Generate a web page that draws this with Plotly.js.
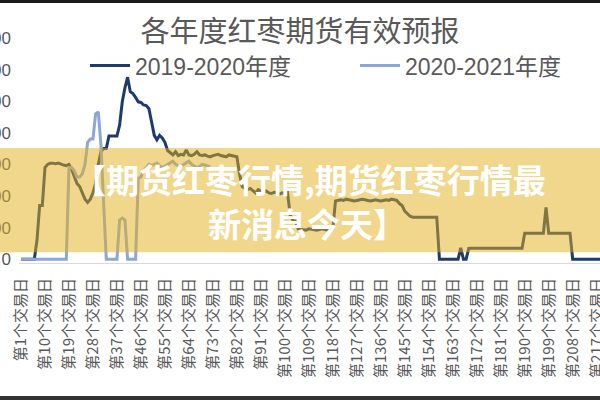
<!DOCTYPE html>
<html>
<head>
<meta charset="utf-8">
<script src="https://cdn.plot.ly/plotly-3.0.1.min.js"></script>
<style>
html,body{margin:0;padding:0;background:#fff;}
#wrap{position:relative;width:600px;height:400px;overflow:hidden;}
#chart{position:absolute;left:0;top:0;width:600px;height:400px;}
.bt{position:absolute;left:0;top:0;width:600px;height:3px;background:#1a1a1a;}
.bb{position:absolute;left:0;top:396px;width:600px;height:4px;background:#333;}
</style>
</head>
<body>
<div id="wrap"><div id="chart"></div><div class="bt"></div><div class="bb"></div></div>
<script>
// ---- data ----
const chartTitle = "各年度红枣期货有效预报";
const seriesNames = ["2019-2020年度", "2020-2021年度"];
const bannerLines = ["【期货红枣行情,期货红枣行情最", "新消息今天】"];
const yTicks = [0, 500, 1000, 1500, 2000, 2500, 3000, 3500];

// 2019-2020 season, trading days 1..220
const s2019 = [
  0,0,0,0,0,0, 300,850,850,1450,1500,
  1520,1520,1510,1520,1500,1490,1480, 1500,
  1420,1300,1200,1150,1050,950,900,950,1050,1200,1500,
  1700,1750,1750,1950,1950,1950,1950,
  2120,2490,2710,2880,2650,2620,2560,2490,2480,2440,2430,2380,
  2170,1960,1890,1960,1920,1850,1720,
  1680,1650,1700,1640,1660,1650,1730,1650,1640,1660,1700,1650,1640,1650,1630,1620,1640,1650,1660,1640,1630,1620,1650,1640,1630,1620,
  1350,
  1150,1120,1100,1120,1080,1050,1100,1080,1060,1080,1050,1040,1060,1050,1030,1050,1040,1060,
  700,620,600,
  480,470,470,460,480,470,470,460,470,480,470,460,470,480,
  920,930,940,930,950,940,930,920,930,940,950,940,930,920,930,940,930,920,930,940,930,950,940,930,
  880,850,760,720,680,
  665,665,670,665,660,665,665,670,665,665,
  0,0,0,0,0,0,0,0, 180,0,0,170,
  175,175,175,175,175,175,175,175,175,175,175,175,175,175,175,175,175,175,175,175,
  410,410,410,410,410,410,410,410,
  820,410,
  410,410,410,410,410,410,410,410,
  0,0,0,0,0,0,0,0,0,0,0,0
];
// 2020-2021 season, trading days so far
const s2020 = [
  0,0,0,0,0,0,0,0,0,0,0,0,0,0,0,0,0,0,
  1450,1450,1400,1300,1300,1350,1500,1850,1900,1900,2300,2330,1800,900,
  0,0,0,0,0, 620,650,620, 0,0,0,0,
  1280,1300,1400,1450,1500,1480,
  1500,1520,1480,1450,1470,1500,1520,1550,1500,1480,1460,1500,1530,1550,1500,1480,1450,1470,1500,1490,1470,1460
];

const days1 = s2019.map((v, i) => i + 1);
const days2 = s2020.map((v, i) => i + 1);
const tickDays = days1.filter(d => (d - 1) % 9 === 0);
const tickText = tickDays.map(d => "第" + d + "个交易日");

const CJK = "Noto Sans CJK SC";
const legFont = {family: "Liberation Sans, " + CJK, size: 23, color: "#595959"};
const traces = [
  {x: days1, y: s2019, name: seriesNames[0], type: "scatter", mode: "lines", legend: "legend",
   line: {color: "#1F3B6E", width: 3}},
  {x: days2, y: s2020, name: seriesNames[1], type: "scatter", mode: "lines", legend: "legend2",
   line: {color: "#8CA6D6", width: 3}}
];

const layout = {
  width: 600, height: 400,
  margin: {l: 19, r: 0, t: 38, b: 137},
  paper_bgcolor: "#ffffff", plot_bgcolor: "#ffffff",
  showlegend: true,
  title: {text: chartTitle, x: 0.5, xref: "container", xanchor: "center",
          y: 0.92, yref: "container", yanchor: "middle",
          font: {family: CJK, size: 29, color: "#595959"}},
  legend: {orientation: "h", x: (85 - 19) / 581, xanchor: "left", y: 0.973, yanchor: "top",
           font: legFont, itemwidth: 40, bgcolor: "rgba(0,0,0,0)"},
  legend2: {orientation: "h", x: (355 - 19) / 581, xanchor: "left", y: 0.973, yanchor: "top",
           font: legFont, itemwidth: 40, bgcolor: "rgba(0,0,0,0)"},
  xaxis: {type: "linear", range: [0.25, 218.25], tickmode: "array",
          tickvals: tickDays, ticktext: tickText, tickangle: -90,
          ticks: "", showgrid: false, zeroline: false,
          showline: true, linecolor: "#D9D9D9", linewidth: 1,
          ticklabelstandoff: 8, ticklabeloverflow: "allow",
          tickfont: {family: CJK, size: 15, color: "#595959"}},
  yaxis: {range: [-60, 3500], tickmode: "array", tickvals: yTicks,
          ticks: "", showgrid: false, zeroline: false, showline: false,
          ticklabelstandoff: 7, ticklabeloverflow: "allow",
          tickfont: {family: "Liberation Sans", size: 17, color: "#595959"}},
  shapes: [
    {type: "rect", xref: "paper", yref: "paper", x0: -0.04, x1: 1.01,
     y0: 0.048, y1: 0.5107, line: {width: 0}, fillcolor: "rgba(225,175,25,0.5)", layer: "above"}
  ],
  annotations: [
    {text: "<b>" + bannerLines[0] + "</b>", xref: "paper", yref: "paper",
     x: (309 - 19) / 581, y: (262.8 - 179) / 224.8, xanchor: "center", yanchor: "middle",
     showarrow: false, font: {family: CJK, size: 33, color: "#ffffff"}},
    {text: "<b>" + bannerLines[1] + "</b>", xref: "paper", yref: "paper",
     x: (307 - 19) / 581, y: (262.8 - 223) / 224.8, xanchor: "center", yanchor: "middle",
     showarrow: false, font: {family: CJK, size: 33, color: "#ffffff"}}
  ]
};

Plotly.newPlot("chart", traces, layout, {displayModeBar: false, staticPlot: true});
</script>
</body>
</html>
